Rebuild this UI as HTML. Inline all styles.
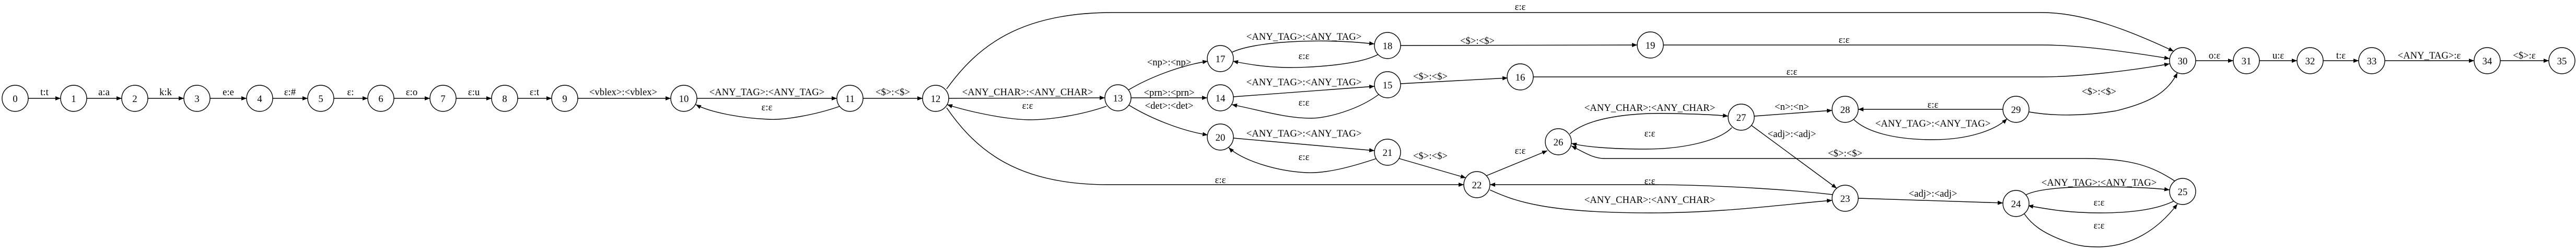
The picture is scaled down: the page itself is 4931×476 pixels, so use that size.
<!DOCTYPE html>
<html><head><meta charset="utf-8"><style>
html,body{margin:0;padding:0;background:#fff;}
svg{display:block;}
text{font-family:"Liberation Serif",serif;font-size:18.67px;fill:#000;text-anchor:middle;}
.e{fill:none;stroke:#000;stroke-width:1.4;marker-end:url(#a);}
circle{fill:#fff;stroke:#000;stroke-width:1.4;}
</style></head><body>
<svg width="4931" height="476" viewBox="0 0 4931 476" xmlns="http://www.w3.org/2000/svg">
<defs><marker id="a" markerWidth="10" markerHeight="8" refX="10" refY="4" orient="auto" markerUnits="userSpaceOnUse"><path d="M0,0 L10,4 L0,8 Z" fill="#000"/></marker></defs>
<g>
<!-- chain 0-12 -->
<path class="e" d="M54,188 L116,188"/><text x="85" y="182">t:t</text>
<path class="e" d="M166,188 L233,188"/><text x="199" y="182">a:a</text>
<path class="e" d="M283,188 L352,188"/><text x="317" y="182">k:k</text>
<path class="e" d="M402,188 L472,188"/><text x="437" y="182">e:e</text>
<path class="e" d="M522,188 L589,188"/><text x="555" y="182">ε:#</text>
<path class="e" d="M639,188 L704,188"/><text x="671" y="182">ε:</text>
<path class="e" d="M754,188 L823,188"/><text x="788" y="182">ε:o</text>
<path class="e" d="M873,188 L941,188"/><text x="907" y="182">ε:u</text>
<path class="e" d="M991,188 L1056,188"/><text x="1023" y="182">ε:t</text>
<path class="e" d="M1106,188 L1284,188"/><text x="1193" y="182">&lt;vblex&gt;:&lt;vblex&gt;</text>
<path class="e" d="M1334,188 L1602,188"/><text x="1468" y="182">&lt;ANY_TAG&gt;:&lt;ANY_TAG&gt;</text>
<path class="e" d="M1608,203 C1560,220 1500,230 1470,228 C1420,226 1360,215 1332,200"/><text x="1468" y="211">ε:ε</text>
<path class="e" d="M1652,188 L1766,188"/><text x="1709" y="182">&lt;$&gt;:&lt;$&gt;</text>
<!-- 12/13 -->
<path class="e" d="M1816,188 L2115,187"/><text x="1967" y="182">&lt;ANY_CHAR&gt;:&lt;ANY_CHAR&gt;</text>
<path class="e" d="M2118,203 C2070,220 2010,229 1970,229 C1920,228 1850,212 1813,200"/><text x="1967" y="208">ε:ε</text>
<path class="e" d="M1812,170 C1870,90 1950,24 2129,24 L3909,24 C3990,24 4080,60 4161,98"/><text x="2910" y="19">ε:ε</text>
<path class="e" d="M1812,206 C1870,290 1950,353 2120,353 L2802,353"/><text x="2336" y="350">ε:ε</text>
<path class="e" d="M2160,172 C2200,148 2260,125 2312,117"/><text x="2238" y="125">&lt;np&gt;:&lt;np&gt;</text>
<path class="e" d="M2165,187 L2311,187"/><text x="2238" y="183">&lt;prn&gt;:&lt;prn&gt;</text>
<path class="e" d="M2161,201 C2200,225 2260,250 2312,258"/><text x="2238" y="208">&lt;det&gt;:&lt;det&gt;</text>
<!-- 17/18 -->
<path class="e" d="M2358,100 C2400,80 2520,72 2631,84"/><text x="2496" y="76">&lt;ANY_TAG&gt;:&lt;ANY_TAG&gt;</text>
<path class="e" d="M2638,104 C2600,125 2500,130 2460,129 C2420,128 2390,123 2360,117"/><text x="2496" y="113">ε:ε</text>
<path class="e" d="M2361,185 L2631,165"/><text x="2496" y="163">&lt;ANY_TAG&gt;:&lt;ANY_TAG&gt;</text>
<path class="e" d="M2640,180 C2600,210 2540,226 2510,226 C2460,226 2410,210 2358,200"/><text x="2496" y="202">ε:ε</text>
<path class="e" d="M2361,264 L2631,288"/><text x="2496" y="261">&lt;ANY_TAG&gt;:&lt;ANY_TAG&gt;</text>
<path class="e" d="M2635,303 C2590,318 2540,332 2500,330 C2440,327 2375,305 2352,282"/><text x="2496" y="306">ε:ε</text>
<path class="e" d="M2681,87 L3134,86"/><text x="2828" y="84">&lt;$&gt;:&lt;$&gt;</text>
<path class="e" d="M3184,86 L3909,86 C3980,86 4080,100 4153,112"/><text x="3530" y="82">ε:ε</text>
<path class="e" d="M2681,160 L2886,149"/><text x="2738" y="152">&lt;$&gt;:&lt;$&gt;</text>
<path class="e" d="M2935,147 L3909,147 C3980,147 4080,135 4153,122"/><text x="3430" y="143">ε:ε</text>
<path class="e" d="M2678,303 L2806,340"/><text x="2738" y="304">&lt;$&gt;:&lt;$&gt;</text>
<path class="e" d="M2845,336 L2962,288"/><text x="2910" y="294">ε:ε</text>
<path class="e" d="M3005,256 C3040,225 3120,215 3200,217 C3250,218 3290,220 3308,222"/><text x="3158" y="212">&lt;ANY_CHAR&gt;:&lt;ANY_CHAR&gt;</text>
<path class="e" d="M3315,244 C3290,270 3220,285 3150,285 C3080,285 3030,280 3008,274"/><text x="3158" y="261">ε:ε</text>
<path class="e" d="M3358,222 L3507,211"/><text x="3430" y="210">&lt;n&gt;:&lt;n&gt;</text>
<path class="e" d="M3353,240 L3516,360"/><text x="3430" y="262">&lt;adj&gt;:&lt;adj&gt;</text>
<path class="e" d="M2852,363 C2900,385 2960,407 3160,407 C3300,407 3420,390 3507,383"/><text x="3158" y="388">&lt;ANY_CHAR&gt;:&lt;ANY_CHAR&gt;</text>
<path class="e" d="M3508,372 C3450,365 3300,353 3150,353 L2852,353"/><text x="3158" y="352">ε:ε</text>
<path class="e" d="M3548,228 C3570,250 3620,267 3700,267 C3770,267 3820,248 3842,227"/><text x="3700" y="242">&lt;ANY_TAG&gt;:&lt;ANY_TAG&gt;</text>
<path class="e" d="M3834,209 L3557,209"/><text x="3700" y="206">ε:ε</text>
<path class="e" d="M3884,214 C3930,222 3990,222 4050,212 C4120,195 4150,175 4168,139"/><text x="4018" y="181">&lt;$&gt;:&lt;$&gt;</text>
<path class="e" d="M4163,346 C4120,318 4080,303 3990,303 L3070,303 C3050,303 3030,290 3008,279"/><text x="3532" y="299">&lt;$&gt;:&lt;$&gt;</text>
<path class="e" d="M3557,379 L3834,388"/><text x="3700" y="376">&lt;adj&gt;:&lt;adj&gt;</text>
<path class="e" d="M3877,373 C3900,360 3960,357 4020,357 C4080,357 4130,360 4153,363"/><text x="4018" y="355">&lt;ANY_TAG&gt;:&lt;ANY_TAG&gt;</text>
<path class="e" d="M4162,384 C4130,400 4080,407 4020,407 C3960,407 3920,400 3882,393"/><text x="4018" y="393">ε:ε</text>
<path class="e" d="M3875,409 C3890,430 3910,445 3950,460 C3980,472 4000,472 4020,472 C4080,470 4130,440 4168,390"/><text x="4018" y="437">ε:ε</text>
<!-- tail -->
<path class="e" d="M4203,116 L4275,116"/><text x="4239" y="112">o:ε</text>
<path class="e" d="M4325,116 L4397,116"/><text x="4361" y="112">u:ε</text>
<path class="e" d="M4447,116 L4515,116"/><text x="4481" y="112">t:ε</text>
<path class="e" d="M4565,116 L4736,116"/><text x="4650" y="112">&lt;ANY_TAG&gt;:ε</text>
<path class="e" d="M4786,116 L4879,116"/><text x="4832" y="112">&lt;$&gt;:ε</text>
</g>
<g>
<circle cx="29" cy="188" r="25"/><text x="29" y="195">0</text>
<circle cx="141" cy="188" r="25"/><text x="141" y="195">1</text>
<circle cx="258" cy="188" r="25"/><text x="258" y="195">2</text>
<circle cx="377" cy="188" r="25"/><text x="377" y="195">3</text>
<circle cx="497" cy="188" r="25"/><text x="497" y="195">4</text>
<circle cx="614" cy="188" r="25"/><text x="614" y="195">5</text>
<circle cx="729" cy="188" r="25"/><text x="729" y="195">6</text>
<circle cx="848" cy="188" r="25"/><text x="848" y="195">7</text>
<circle cx="966" cy="188" r="25"/><text x="966" y="195">8</text>
<circle cx="1081" cy="188" r="25"/><text x="1081" y="195">9</text>
<circle cx="1309" cy="188" r="25"/><text x="1309" y="195">10</text>
<circle cx="1627" cy="188" r="25"/><text x="1627" y="195">11</text>
<circle cx="1791" cy="188" r="25"/><text x="1791" y="195">12</text>
<circle cx="2140" cy="187" r="25"/><text x="2140" y="194">13</text>
<circle cx="2336" cy="112" r="25"/><text x="2336" y="119">17</text>
<circle cx="2336" cy="187" r="25"/><text x="2336" y="194">14</text>
<circle cx="2336" cy="262" r="25"/><text x="2336" y="269">20</text>
<circle cx="2656" cy="87" r="25"/><text x="2656" y="94">18</text>
<circle cx="2656" cy="162" r="25"/><text x="2656" y="169">15</text>
<circle cx="2656" cy="291" r="25"/><text x="2656" y="298">21</text>
<circle cx="3159" cy="86" r="25"/><text x="3159" y="93">19</text>
<circle cx="2910" cy="147" r="25"/><text x="2910" y="154">16</text>
<circle cx="2827" cy="353" r="25"/><text x="2827" y="360">22</text>
<circle cx="2983" cy="271" r="25"/><text x="2983" y="278">26</text>
<circle cx="3333" cy="224" r="25"/><text x="3333" y="231">27</text>
<circle cx="3532" cy="209" r="25"/><text x="3532" y="216">28</text>
<circle cx="3859" cy="209" r="25"/><text x="3859" y="216">29</text>
<circle cx="4178" cy="116" r="25"/><text x="4178" y="123">30</text>
<circle cx="4300" cy="116" r="25"/><text x="4300" y="123">31</text>
<circle cx="4422" cy="116" r="25"/><text x="4422" y="123">32</text>
<circle cx="4540" cy="116" r="25"/><text x="4540" y="123">33</text>
<circle cx="4761" cy="116" r="25"/><text x="4761" y="123">34</text>
<circle cx="4904" cy="116" r="25"/><text x="4904" y="123">35</text>
<circle cx="3532" cy="379" r="25"/><text x="3532" y="386">23</text>
<circle cx="3859" cy="389" r="25"/><text x="3859" y="396">24</text>
<circle cx="4178" cy="366" r="25"/><text x="4178" y="373">25</text>
</g>
</svg>
</body></html>
